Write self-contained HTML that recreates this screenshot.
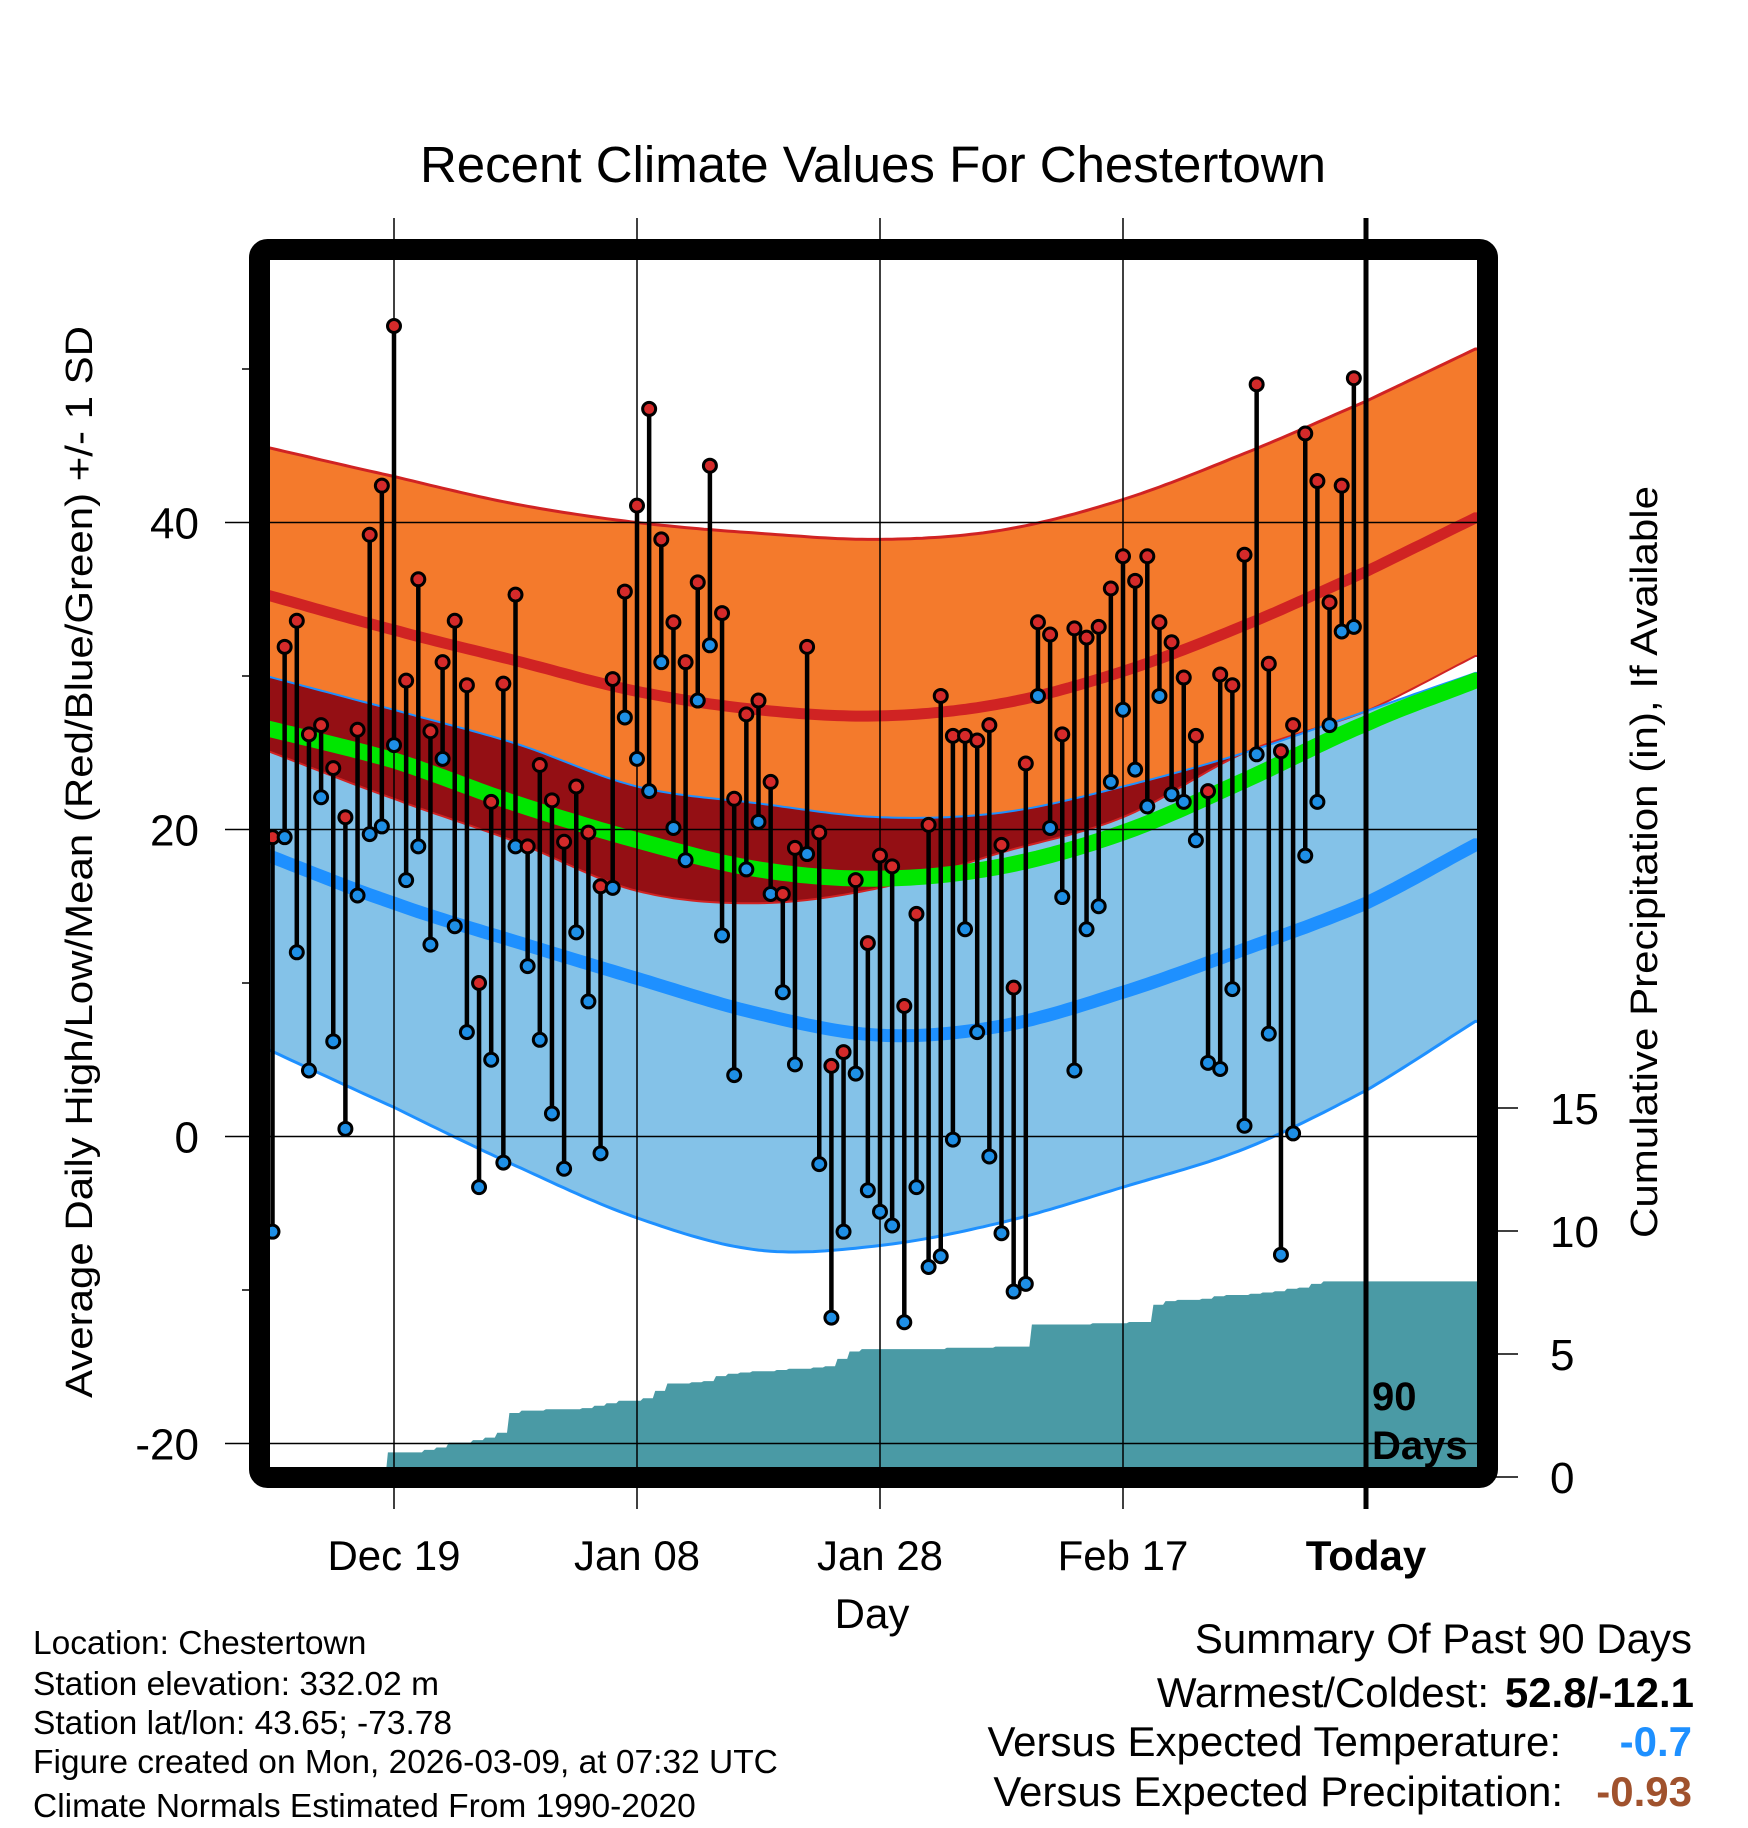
<!DOCTYPE html>
<html><head><meta charset="utf-8">
<style>
html,body{margin:0;padding:0;background:#fff;}
svg{display:block;font-family:"Liberation Sans",Arial,sans-serif;}
</style></head>
<body>
<svg id="chart" width="1748" height="1828" viewBox="0 0 1748 1828" xmlns="http://www.w3.org/2000/svg">
<text x="873" y="182" font-size="51" text-anchor="middle">Recent Climate Values For Chestertown</text>
<g id="bands"></g>
<g id="precip"></g>
<g id="grid"></g>
<g id="stems"></g>
<rect x="259.5" y="249.5" width="1228" height="1228" rx="8" fill="none" stroke="#000" stroke-width="21"/>
<g id="axes"></g>
<text transform="translate(92,862) rotate(-90)" font-size="38" text-anchor="middle" textLength="1072" lengthAdjust="spacingAndGlyphs">Average Daily High/Low/Mean (Red/Blue/Green) +/- 1 SD</text>
<text transform="translate(1657,862) rotate(-90)" font-size="38" text-anchor="middle" textLength="752" lengthAdjust="spacingAndGlyphs">Cumulative Precipitation (in), If Available</text>
<text x="872" y="1628" font-size="42" text-anchor="middle">Day</text>
<text x="1372" y="1410" font-size="40" font-weight="bold">90</text>
<text x="1372" y="1459" font-size="40" font-weight="bold">Days</text>
<g font-size="33.5">
<text x="33" y="1654">Location: Chestertown</text>
<text x="33" y="1695">Station elevation: 332.02 m</text>
<text x="33" y="1734">Station lat/lon: 43.65; -73.78</text>
<text x="33" y="1773">Figure created on Mon, 2026-03-09, at 07:32 UTC</text>
<text x="33" y="1817">Climate Normals Estimated From 1990-2020</text>
</g>
<g font-size="42">
<text x="1692" y="1653" text-anchor="end">Summary Of Past 90 Days</text>
<text x="1489" y="1707" text-anchor="end">Warmest/Coldest:</text>
<text x="1694" y="1707" text-anchor="end" font-weight="bold">52.8/-12.1</text>
<text x="1561" y="1756" text-anchor="end">Versus Expected Temperature:</text>
<text x="1692" y="1756" text-anchor="end" font-weight="bold" fill="#1e90ff">-0.7</text>
<text x="1563" y="1806" text-anchor="end">Versus Expected Precipitation:</text>
<text x="1692" y="1806" text-anchor="end" font-weight="bold" fill="#a0522d">-0.93</text>
</g>
</svg>
<script>
const normDays=[-91,-80,-70,-60,-50,-40,-30,-20,-10,0,9];
const highPlus=[45.0,43.0,41.2,40.0,39.3,38.9,39.5,41.5,44.5,47.9,51.3];
const highMean=[35.4,33.0,31.0,29.0,27.8,27.4,28.2,30.3,33.3,36.8,40.3];
const highMinus=[25.3,22.0,19.2,16.0,15.2,16.2,18.5,20.8,25.0,27.7,31.3];
const lowPlus=[30.1,27.8,25.6,22.8,21.7,20.8,21.1,22.8,25.0,27.7,30.2];
const allMean=[26.7,24.5,21.7,19.3,17.4,16.8,17.6,19.8,23.2,26.9,29.7];
const lowMean=[18.5,15.2,12.7,10.3,8.0,6.6,7.2,9.4,12.2,15.2,19.0];
const lowMinus=[5.9,1.9,-1.9,-5.3,-7.4,-7.1,-5.6,-3.3,-0.8,3.0,7.5];
const dayHigh=[19.5,31.9,33.6,26.2,26.8,24.0,20.8,26.5,39.2,42.4,52.8,29.7,36.3,26.4,30.9,33.6,29.4,10.0,21.8,29.5,35.3,18.9,24.2,21.9,19.2,22.8,19.8,16.3,29.8,35.5,41.1,47.4,38.9,33.5,30.9,36.1,43.7,34.1,22.0,27.5,28.4,23.1,15.8,18.8,31.9,19.8,4.6,5.5,16.7,12.6,18.3,17.6,8.5,14.5,20.3,28.7,26.1,26.1,25.8,26.8,19.0,9.7,24.3,33.5,32.7,26.2,33.1,32.5,33.2,35.7,37.8,36.2,37.8,33.5,32.2,29.9,26.1,22.5,30.1,29.4,37.9,49.0,30.8,25.1,26.8,45.8,42.7,34.8,42.4,49.4];
const dayLow=[-6.2,19.5,12.0,4.3,22.1,6.2,0.5,15.7,19.7,20.2,25.5,16.7,18.9,12.5,24.6,13.7,6.8,-3.3,5.0,-1.7,18.9,11.1,6.3,1.5,-2.1,13.3,8.8,-1.1,16.2,27.3,24.6,22.5,30.9,20.1,18.0,28.4,32.0,13.1,4.0,17.4,20.5,15.8,9.4,4.7,18.4,-1.8,-11.8,-6.2,4.1,-3.5,-4.9,-5.8,-12.1,-3.3,-8.5,-7.8,-0.2,13.5,6.8,-1.3,-6.3,-10.1,-9.6,28.7,20.1,15.6,4.3,13.5,15.0,23.1,27.8,23.9,21.5,28.7,22.3,21.8,19.3,4.8,4.4,9.6,0.7,24.9,6.7,-7.7,0.2,18.3,21.8,26.8,32.9,33.2];
const precipCum=[0,0,0,0,0,0,0,0,0,0,1.0,1.0,1.0,1.1,1.2,1.4,1.4,1.5,1.6,1.8,2.6,2.7,2.7,2.75,2.75,2.75,2.8,2.9,3.0,3.1,3.1,3.2,3.5,3.8,3.8,3.85,3.9,4.1,4.2,4.25,4.3,4.3,4.35,4.4,4.4,4.45,4.5,4.8,5.1,5.2,5.2,5.2,5.2,5.2,5.2,5.2,5.25,5.25,5.25,5.25,5.3,5.3,5.3,6.2,6.2,6.2,6.2,6.2,6.25,6.25,6.25,6.3,6.3,7.0,7.15,7.2,7.2,7.25,7.35,7.4,7.4,7.45,7.5,7.55,7.65,7.7,7.85,7.95,7.95,7.95];
const xTickDays=[-80,-60,-40,-20,0];
const xTickLabels=["Dec 19","Jan 08","Jan 28","Feb 17","Today"];
const yTicks=[40,20,0,-20];
const yMinor=[50,30,10,-10];
const pTicks=[0,5,10,15];

const NS="http://www.w3.org/2000/svg";
const X0=270,X1=1477,Y0=260,Y1=1467;
const xs=d=>1366+12.15*d;
const ys=t=>1136.5-15.35*t;
const yp=p=>1477-24.6*p;
function mk(tag,attrs,parent){const e=document.createElementNS(NS,tag);for(const k in attrs)e.setAttribute(k,attrs[k]);parent.appendChild(e);return e;}
function interp(arr,d){
  const n=normDays.length;
  let i=0;while(i<n-2&&d>normDays[i+1])i++;
  const x0=normDays[i],x1=normDays[i+1];const t=Math.max(0,Math.min(1,(d-x0)/(x1-x0)));
  const p1=arr[i],p2=arr[i+1];
  const p0=i>0?arr[i-1]:2*p1-p2, p3=i+2<n?arr[i+2]:2*p2-p1;
  const t2=t*t,t3=t2*t;
  return 0.5*((2*p1)+(-p0+p2)*t+(2*p0-5*p1+4*p2-p3)*t2+(-p0+3*p1-3*p2+p3)*t3);
}
const fine=[];for(let d=-91.5;d<=9.5;d+=0.5)fine.push(d);
function line(arr){return fine.map(d=>xs(d).toFixed(1)+","+ys(interp(arr,d)).toFixed(1)).join(" ");}
function band(top,bot){const a=fine.map(d=>xs(d).toFixed(1)+","+ys(top(d)).toFixed(1));const b=fine.slice().reverse().map(d=>xs(d).toFixed(1)+","+ys(bot(d)).toFixed(1));return a.concat(b).join(" ");}
const svg=document.getElementById('chart');
const defs=mk('defs',{},svg);
const cp=mk('clipPath',{id:'plotclip'},defs);
mk('rect',{x:X0,y:Y0,width:X1-X0,height:Y1-Y0},cp);
const bands=document.getElementById('bands');bands.setAttribute('clip-path','url(#plotclip)');
let e;
e=mk('polygon',{points:band(d=>interp(highPlus,d),d=>interp(highMinus,d)),fill:'#f47a2c'},bands);

e=mk('polygon',{points:band(d=>interp(lowPlus,d),d=>interp(lowMinus,d)),fill:'#84c2e8'},bands);

e=mk('polygon',{points:band(d=>interp(lowPlus,d),d=>Math.min(interp(highMinus,d),interp(lowPlus,d))),fill:'#940f14'},bands);

const lines=[[highPlus,'#d02323',3,'high-plus-sd-line'],[highMinus,'#d02323',2,'high-minus-sd-line'],[lowPlus,'#1e90ff',2,'low-plus-sd-line'],[lowMinus,'#1e90ff',3,'low-minus-sd-line'],[highMean,'#d02323',11,'high-mean-line'],[allMean,'#00e600',16,'mean-line'],[lowMean,'#1e90ff',13,'low-mean-line']];
for(const L of lines){e=mk('polyline',{points:line(L[0]),fill:'none',stroke:L[1],'stroke-width':L[2]},bands);

}
// precipitation
const pg=document.getElementById('precip');pg.setAttribute('clip-path','url(#plotclip)');
let pts=[];for(let i=0;i<precipCum.length;i++){const d=-90+i;pts.push(xs(d-0.5).toFixed(1)+","+yp(precipCum[i]).toFixed(1));pts.push(xs(d+0.3).toFixed(1)+","+yp(precipCum[i]).toFixed(1));}
pts.push(X1+","+yp(precipCum[precipCum.length-1]).toFixed(1));pts.push(X1+","+(Y1+5));pts.push(X0+","+(Y1+5));pts.unshift(X0+","+yp(precipCum[0]).toFixed(1));
e=mk('polygon',{points:pts.join(" "),fill:'#4a9aa5'},pg);

// grid
const g=document.getElementById('grid');
xTickDays.forEach((d,i)=>{const x=xs(d);e=mk('line',{x1:x,x2:x,y1:218,y2:1509,stroke:'#000','stroke-width':d===0?5:1.5},g);

});
yTicks.forEach(t=>{const y=ys(t);e=mk('line',{x1:225,x2:X1,y1:y,y2:y,stroke:'#000','stroke-width':1.5},g);

});
yMinor.forEach(t=>{const y=ys(t);e=mk('line',{x1:242,x2:252,y1:y,y2:y,stroke:'#000','stroke-width':1.5},g);

});
pTicks.forEach(p=>{const y=yp(p);e=mk('line',{x1:1492,x2:1518,y1:y,y2:y,stroke:'#000','stroke-width':1.5},g);

});
// stems
const sg=document.getElementById('stems');
for(let i=0;i<dayHigh.length;i++){const x=xs(-90+i);
e=mk('line',{x1:x,x2:x,y1:ys(dayHigh[i]),y2:ys(dayLow[i]),stroke:'#000','stroke-width':4.5},sg);


e=mk('circle',{cx:x,cy:ys(dayLow[i]),r:6.5,fill:'#1e8fe6',stroke:'#000','stroke-width':3},sg);


e=mk('circle',{cx:x,cy:ys(dayHigh[i]),r:6.5,fill:'#d42a2a',stroke:'#000','stroke-width':3},sg);

}
// axis labels
const ax=document.getElementById('axes');
xTickDays.forEach((d,i)=>{e=mk('text',{x:xs(d),y:1570,'font-size':42,'text-anchor':'middle','font-weight':d===0?'bold':'normal'},ax);e.textContent=xTickLabels[i];

});
yTicks.forEach(t=>{e=mk('text',{x:199,y:ys(t)+16,'font-size':44,'text-anchor':'end'},ax);e.textContent=String(t);

});
pTicks.forEach(p=>{e=mk('text',{x:1550,y:yp(p)+16,'font-size':44},ax);e.textContent=String(p);

});
</script>
</body></html>
